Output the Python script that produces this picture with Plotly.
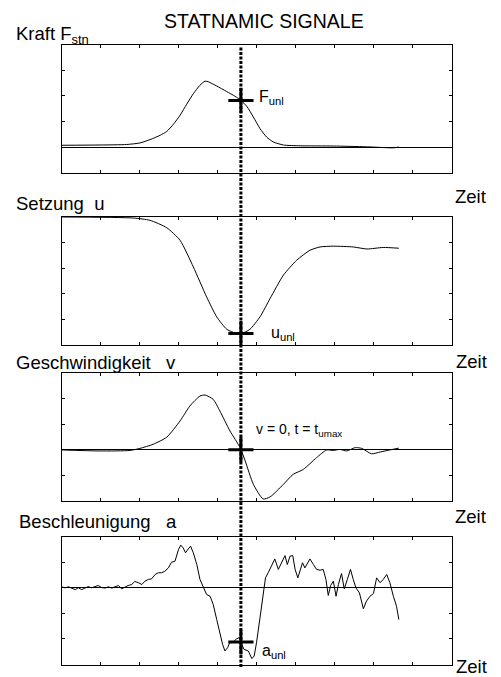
import plotly.graph_objects as go

# ---------------- data (time in tick units 0..10, amplitudes in tick units) ----------------
t_F = [0.00, 0.99, 1.67, 2.01, 2.27, 2.53, 2.70, 2.87, 3.04, 3.21, 3.38, 3.55, 3.68, 3.76,
       3.98, 4.23, 4.45, 4.60, 4.75, 4.92, 5.09, 5.26, 5.43, 5.69, 6.12, 6.97, 7.82, 8.51, 8.65]
F_val = [0.07, 0.08, 0.10, 0.16, 0.29, 0.46, 0.61, 0.89, 1.24, 1.67, 2.08, 2.41, 2.57, 2.55,
         2.38, 2.17, 1.98, 1.82, 1.59, 1.17, 0.72, 0.39, 0.20, 0.08, 0.05, 0.04, 0.01, -0.03, 0.00]

t_u = [0.00, 1.84, 2.27, 2.70, 3.04, 3.38, 3.72, 3.98, 4.24, 4.49, 4.60, 4.83, 5.09, 5.35,
       5.69, 6.03, 6.37, 6.63, 6.97, 7.48, 7.83, 8.25, 8.65]
u_val = [0.00, -0.04, -0.13, -0.42, -0.91, -1.95, -3.12, -3.90, -4.39, -4.55, -4.56, -4.39, -3.90, -3.18,
         -2.27, -1.69, -1.30, -1.17, -1.14, -1.17, -1.25, -1.19, -1.22]

t_v = [0.00, 0.99, 1.76, 2.01, 2.35, 2.70, 3.04, 3.29, 3.55, 3.68, 3.89, 4.06, 4.32, 4.58,
       4.71, 4.92, 5.17, 5.35, 5.69, 5.94, 6.20, 6.54, 6.80, 6.97, 7.14, 7.31, 7.53, 7.70,
       7.95, 8.17, 8.42, 8.65]
v_val = [-0.01, -0.05, -0.03, 0.05, 0.21, 0.49, 1.12, 1.70, 2.09, 2.13, 1.96, 1.51, 0.73, 0.08,
         -0.44, -1.35, -1.92, -1.84, -1.35, -0.96, -0.77, -0.31, -0.01, -0.03, 0.01, -0.05, 0.08, 0.05,
         -0.16, -0.09, -0.01, 0.06]

t_a = [0.00, 0.09, 0.18, 0.26, 0.35, 0.43, 0.52, 0.60, 0.69, 0.77,
       0.86, 0.94, 1.03, 1.12, 1.20, 1.29, 1.37, 1.46, 1.54, 1.63,
       1.71, 1.80, 1.88, 1.97, 2.06, 2.14, 2.23, 2.31, 2.40, 2.48,
       2.57, 2.65, 2.74, 2.82, 2.91, 3.00, 3.06, 3.12, 3.18, 3.25,
       3.31, 3.38, 3.47, 3.55, 3.64, 3.72, 3.81, 3.89, 3.98, 4.06,
       4.13, 4.19, 4.26, 4.32, 4.41, 4.49, 4.56, 4.62, 4.68, 4.79,
       4.88, 4.94, 5.00, 5.09, 5.17, 5.23, 5.30, 5.39, 5.47, 5.56,
       5.65, 5.73, 5.79, 5.86, 5.93, 5.99, 6.06, 6.12, 6.18, 6.24,
       6.30, 6.37, 6.46, 6.54, 6.63, 6.71, 6.78, 6.84, 6.90, 6.97,
       7.04, 7.10, 7.18, 7.25, 7.33, 7.41, 7.48, 7.55, 7.64, 7.74,
       7.82, 7.91, 8.00, 8.08, 8.17, 8.25, 8.34, 8.42, 8.51, 8.59,
       8.65]
a_val = [0.04, 0.00, 0.04, 0.00, -0.07, 0.00, -0.07, -0.01, 0.05, 0.00,
         0.05, 0.09, 0.01, -0.01, 0.04, -0.01, 0.04, 0.09, -0.04, 0.04,
         0.09, 0.13, 0.25, 0.20, 0.13, 0.26, 0.33, 0.35, 0.52, 0.59,
         0.59, 0.65, 0.78, 1.00, 1.04, 1.50, 1.67, 1.56, 1.37, 1.52,
         1.63, 1.37, 0.91, 0.33, 0.00, -0.26, -0.33, -0.65, -1.24, -1.76,
         -2.21, -2.47, -2.34, -2.12, -2.12, -1.99, -1.95, -2.21, -2.41, -2.47,
         -2.77, -2.67, -2.15, -1.17, -0.33, 0.39, 0.59, 0.91, 1.13, 0.72,
         0.98, 1.26, 0.91, 1.24, 1.26, 0.72, 0.39, 0.72, 0.98, 0.78,
         0.95, 1.13, 0.91, 0.72, 0.69, 0.72, 0.33, -0.30, 0.09, 0.26,
         -0.33, 0.13, 0.56, -0.04, 0.33, 0.72, 0.33, 0.00, -0.20, -0.82,
         -0.52, -0.33, -0.22, 0.39, 0.20, 0.33, 0.52, 0.20, -0.33, -0.72,
         -1.24]

t_unl = 4.60
F_unl = 1.82
u_unl = -4.55
v_unl = 0.0
a_unl = -2.12

y_ranges = [[-1, 4], [-5, 0], [-2, 3], [-3, 2]]

# ---------------- layout helpers ----------------
W, H = 501, 677
def px_x(p):
    return p / W
def px_y(p):
    return 1 - p / H

x_dom = [px_x(61.5), px_x(451.5)]
y_doms = [[px_y(172.7), px_y(44.5)],
          [px_y(345.0), px_y(217.0)],
          [px_y(501.0), px_y(372.7)],
          [px_y(664.5), px_y(536.7)]]

FONT = "Liberation Sans, Arial, Helvetica, sans-serif"

fig = go.Figure()

series = [(t_F, F_val, "spline"), (t_u, u_val, "spline"), (t_v, v_val, "spline"), (t_a, a_val, "linear")]
marks = [F_unl, u_unl, v_unl, a_unl]

for i, (tx, vy, shape) in enumerate(series):
    xa = "x" if i == 0 else f"x{i+1}"
    ya = "y" if i == 0 else f"y{i+1}"
    fig.add_trace(go.Scatter(x=tx, y=vy, mode="lines", xaxis=xa, yaxis=ya,
                             line=dict(color="black", width=1, shape=shape, smoothing=0.6),
                             showlegend=False, hoverinfo="skip"))
    fig.add_trace(go.Scatter(x=[t_unl], y=[marks[i]], mode="markers", xaxis=xa, yaxis=ya,
                             marker=dict(symbol="cross-thin", size=18, color="black",
                                         line=dict(color="black", width=3)),
                             showlegend=False, hoverinfo="skip"))

axis_common = dict(showline=True, linecolor="black", linewidth=1, mirror="ticks",
                   ticks="inside", ticklen=3, tickcolor="black", tickwidth=1,
                   showticklabels=False, showgrid=False, fixedrange=True)

layout = dict(width=W, height=H, margin=dict(l=0, r=0, t=0, b=0),
              paper_bgcolor="white", plot_bgcolor="white", showlegend=False,
              font=dict(family=FONT, color="black"))

for i in range(4):
    xk = "xaxis" if i == 0 else f"xaxis{i+1}"
    yk = "yaxis" if i == 0 else f"yaxis{i+1}"
    ya = "y" if i == 0 else f"y{i+1}"
    xa = "x" if i == 0 else f"x{i+1}"
    layout[xk] = dict(axis_common, domain=x_dom, anchor=ya, range=[0, 10], tick0=0, dtick=1,
                      zeroline=False)
    layout[yk] = dict(axis_common, domain=y_doms[i], anchor=xa, range=y_ranges[i], tick0=0, dtick=1,
                      zeroline=(i != 1), zerolinecolor="black", zerolinewidth=1)

fig.update_layout(**layout)

# dotted vertical line across all panels
fig.add_shape(type="line", xref="x", yref="paper", x0=t_unl, x1=t_unl,
              y0=px_y(667), y1=px_y(46),
              line=dict(color="black", width=3, dash="3px,1.5px"))

NB = "\u00a0"
def label(text, xp, yp, size, anchor="left"):
    fig.add_annotation(text=text, xref="paper", yref="paper", x=px_x(xp), y=px_y(yp),
                       xanchor=anchor, yanchor="middle", showarrow=False,
                       font=dict(family=FONT, size=size, color="black"))

label("STATNAMIC SIGNALE", 264, 21, 19.5, anchor="center")
label("Kraft F<sub>stn</sub>", 14, 35, 18.5)
label("Zeit", 453, 197, 18.5)
label("Setzung" + NB * 2 + "u", 14, 203, 18.5)
label("Zeit", 454, 361, 18.5)
label("Geschwindigkeit" + NB * 3 + "v", 14, 362, 18.5)
label("Zeit", 453, 516, 18.5)
label("Beschleunigung" + NB * 3 + "a", 17, 521, 18.5)
label("Zeit", 454, 666, 18.5)

label("F<sub>unl</sub>", 257, 97, 16)
label("u<sub>unl</sub>", 269, 333, 16)
label("v = 0, t = t<sub>umax</sub>", 254, 430, 14)
label("a<sub>unl</sub>", 260, 651, 16)

fig.write_html("out.html", config={"displayModeBar": False, "staticPlot": True},
               post_script="document.body.style.margin='0';document.body.style.overflow='hidden';")
